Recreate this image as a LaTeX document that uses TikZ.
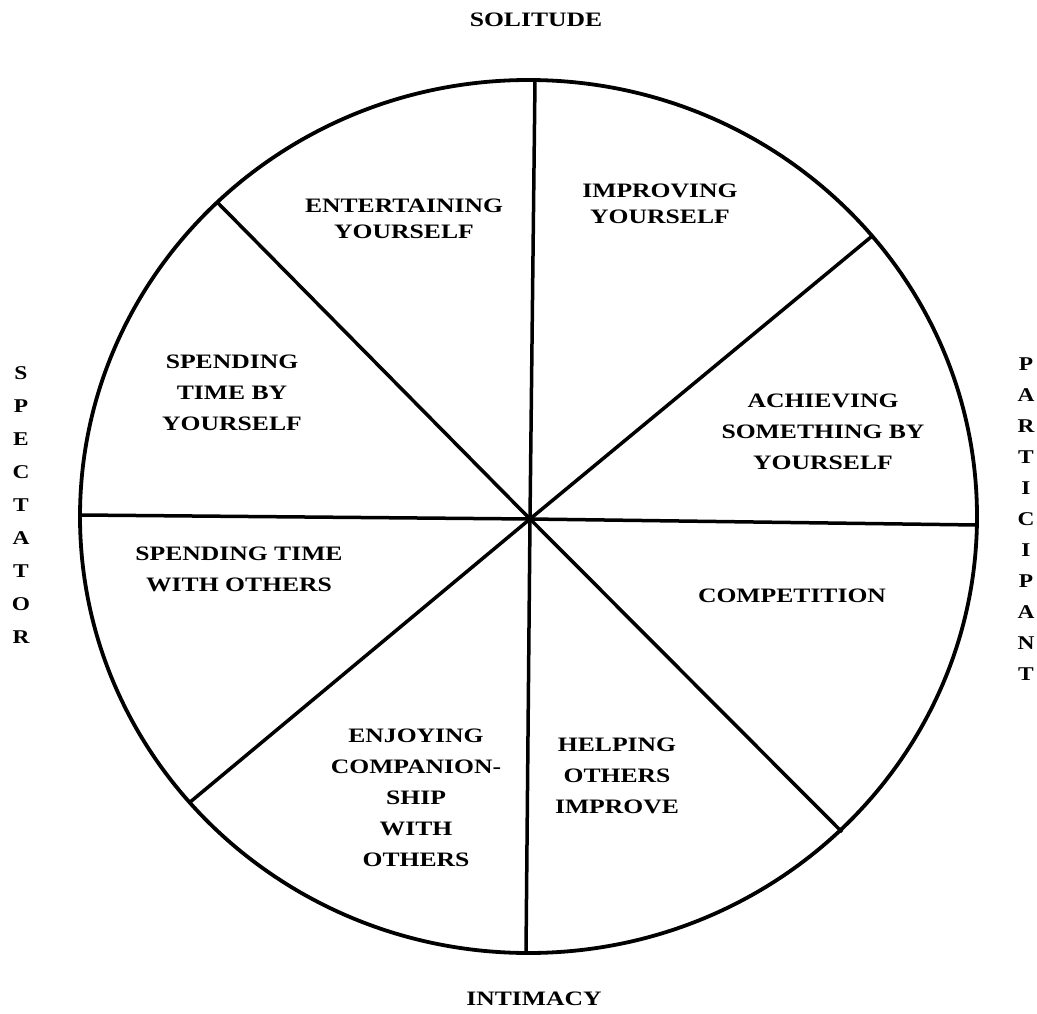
\documentclass[tikz,border=0pt]{standalone}
\usepackage{fontspec}
\setmainfont{Liberation Serif}
\begin{document}
\begin{tikzpicture}[x=1pt,y=1pt,
  rim/.style={line width=3.8pt},
  spoke/.style={line width=3.5pt},
  lab/.style={align=center, inner sep=0pt, xscale=1.25, transform shape,
    font=\fontsize{20.5}{31}\selectfont\bfseries},
  labtight/.style={lab, font=\fontsize{20.5}{26}\selectfont\bfseries},
  stack/.style={align=center, inner sep=0pt, xscale=1.2, transform shape,
    font=\fontsize{19.5}{33}\selectfont\bfseries}]
\useasboundingbox (0,0) rectangle (1037,-1014);

% outer wheel
\draw[rim] (528.5,-516.5) ellipse [x radius=448.5, y radius=436.5];

% hub and rim points of the spokes
\coordinate (c)  at (530,-519);
\coordinate (n)  at (535,-80);
\coordinate (s)  at (526,-953);
\coordinate (w)  at (80,-515);
\coordinate (e)  at (977,-525);
\coordinate (nw) at (218,-203);
\coordinate (ne) at (871,-237);
\coordinate (sw) at (189,-803);
\coordinate (se) at (842,-832);

\draw[spoke] (n) -- (c) -- (s);
\draw[spoke] (w) -- (c) -- (e);
\draw[spoke] (nw) -- (c) -- (se);
\draw[spoke] (ne) -- (c) -- (sw);

% axis labels
\node[lab] (sol) at (536,-20) {SOLITUDE};
\node[lab] (int) at (534,-999) {INTIMACY};
\node[stack] (spec) at (21,-505) {S\\P\\E\\C\\T\\A\\T\\O\\R};
\node[stack, font=\fontsize{19.5}{31}\selectfont\bfseries] (part) at (1026,-519) {P\\A\\R\\T\\I\\C\\I\\P\\A\\N\\T};

% sector labels
\node[labtight] (ent) at (404,-219) {ENTERTAINING\\YOURSELF};
\node[labtight] (imp) at (660,-204) {IMPROVING\\YOURSELF};
\node[lab] (spt) at (232,-393) {SPENDING\\TIME BY\\YOURSELF};
\node[lab] (ach) at (823,-432) {ACHIEVING\\SOMETHING BY\\YOURSELF};
\node[lab] (wot) at (239,-569) {SPENDING TIME\\WITH OTHERS};
\node[lab] (com) at (792,-596) {COMPETITION};
\node[lab] (enj) at (416,-798) {ENJOYING\\COMPANION-\\SHIP\\WITH\\OTHERS};
\node[lab] (hel) at (617,-776) {HELPING\\OTHERS\\IMPROVE};
\end{tikzpicture}
\end{document}
